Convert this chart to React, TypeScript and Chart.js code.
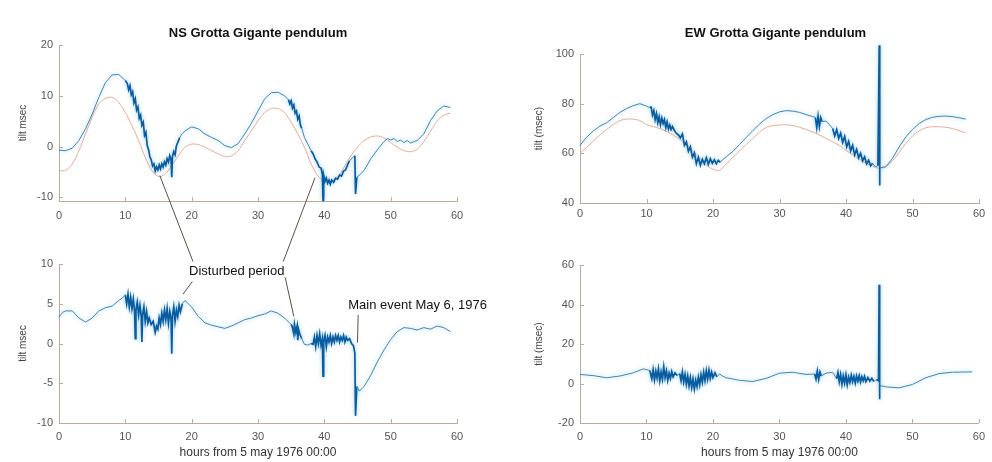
import React, { useEffect, useRef } from 'react';
import { Chart, registerables } from 'chart.js';
Chart.register(...registerables);

// ---------- tick labels ----------
const hourTicks = [0, 10, 20, 30, 40, 50, 60];
const nsTopTicks = [-10, 0, 10, 20];
const ewTopTicks = [40, 60, 80, 100];
const nsBottomTicks = [-10, -5, 0, 5, 10];
const ewBottomTicks = [-20, 0, 20, 40, 60];

// ---------- titles ----------
const nsTitle = 'NS Grotta Gigante pendulum';
const ewTitle = 'EW Grotta Gigante pendulum';
const xAxisTitle = 'hours from 5 may 1976 00:00';
const nsYTitle = 'tilt msec';
const ewYTitle = 'tilt (msec)';
const disturbedLabel = 'Disturbed period';
const mainEventLabel = 'Main event May 6, 1976';

// ---------- series: [hours, tilt] ----------
const nsTopMeasured: [number, number][] = [
  [0, -0.7], [1, -0.8], [2, -0.3], [3, 1.2], [4, 3.5], [5, 6.4], [6, 9.7], [7, 12.6], [8, 14.1], [9, 14.2], [10, 13.0],
  [10.3, 12.4], [10.5, 11.2], [10.7, 12.0], [10.9, 10.2], [11.1, 10.8], [11.3, 8.6], [11.5, 9.4], [11.7, 7.2], [11.9, 7.8],
  [12.1, 5.6], [12.3, 6.2], [12.5, 4.2], [12.7, 4.8], [12.9, 2.2], [13.1, 2.8], [13.3, 0.2], [13.5, -0.6], [13.7, -2.0],
  [13.9, -2.6], [14.1, -3.8], [14.3, -3.4], [14.5, -4.8], [14.7, -4.0], [14.9, -4.6], [15.1, -3.6], [15.3, -4.4],
  [15.5, -3.4], [15.7, -4.0], [15.9, -3.0], [16.1, -3.6], [16.3, -2.4], [16.5, -3.0], [16.7, -1.8], [16.9, -2.6],
  [17.0, -6.0], [17.1, -2.0], [17.3, -1.0], [17.5, -1.6], [17.7, 0.2], [17.9, 0.8], [18.2, 1.8], [18.6, 2.6], [19, 3.1],
  [20, 3.9], [21, 3.5], [22, 2.5], [23, 1.8], [24, 1.2], [25, 0.2], [26, -0.2], [27, 0.6], [28, 2.5], [29, 4.6], [30, 7.0],
  [31, 9.4], [32, 10.6], [33, 10.7], [34, 10.0], [34.6, 9.2], [34.8, 8.4], [35, 9.0], [35.2, 7.6], [35.4, 8.2], [35.6, 6.6],
  [35.8, 7.0], [36, 5.4], [36.2, 6.0], [36.4, 4.2], [36.6, 3.6], [37, 1.8], [37.5, 0.5], [38, -0.8], [38.3, -1.4],
  [38.6, -2.4], [38.9, -3.0], [39.2, -4.0], [39.5, -4.2], [39.7, -5.4], [39.8, -10.6], [39.9, -5.6], [40.1, -6.8],
  [40.3, -6.2], [40.5, -7.2], [40.7, -6.6], [40.9, -7.4], [41.1, -6.6], [41.4, -7.0], [41.7, -6.2], [42.0, -6.4],
  [42.3, -5.6], [42.6, -5.8], [42.9, -4.8], [43.2, -4.6], [43.5, -3.6], [43.8, -2.8], [44.2, -2.2], [44.6, -1.8],
  [44.7, -9.3], [44.9, -6.0], [45.3, -5.6], [46, -4.7], [47, -2.4], [48, -0.6], [49, 1.0], [49.5, 1.6], [50, 1.3],
  [50.5, 1.6], [51, 1.0], [51.5, 1.3], [52, 0.8], [52.5, 1.2], [53, 0.7], [53.5, 1.0], [54, 1.2], [55, 2.5], [56, 5.1],
  [57, 7.0], [58, 8.0], [59, 7.7],
];

const nsTopModel: [number, number][] = [
  [0, -4.7], [1, -4.7], [2, -3.4], [3, -0.8], [4, 2.5], [5, 5.8], [6, 8.4], [7, 9.5], [8, 9.7], [9, 8.7], [10, 6.7],
  [11, 4.1], [12, 1.2], [13, -2.1], [14, -4.7], [15, -5.9], [16, -5.4], [17, -3.7], [18, -1.8], [19, -0.1], [20, 0.5],
  [21, 0.4], [22, -0.1], [23, -0.8], [24, -1.4], [25, -2.0], [26, -1.8], [27, -0.8], [28, 1.2], [29, 3.1], [30, 5.1],
  [31, 6.7], [32, 7.5], [33, 7.5], [34, 6.7], [35, 4.8], [36, 2.5], [37, -0.1], [38, -3.4], [39, -5.7], [40, -6.9],
  [41, -7.0], [42, -6.0], [43, -4.0], [44, -1.8], [45, -0.1], [46, 1.2], [47, 1.9], [48, 2.1], [49, 1.7], [50, 0.8],
  [51, -0.1], [52, -0.8], [53, -1.0], [54, -0.5], [55, 1.0], [56, 3.0], [57, 5.0], [58, 6.2], [59, 6.6],
];

const ewTopMeasured: [number, number][] = [
  [0, 63.2], [1, 66.5], [2, 69.0], [3, 71.0], [4, 72.3], [5, 74.4], [6, 76.5], [7, 78.0], [8, 79.2], [9, 80.0], [10, 79.0],
  [10.5, 78.4], [10.7, 78.6], [10.9, 75.4], [11.1, 77.2], [11.3, 73.6], [11.5, 76.0], [11.7, 72.4], [11.9, 74.8],
  [12.1, 71.6], [12.3, 74.2], [12.5, 72.0], [12.7, 73.6], [12.9, 70.4], [13.1, 72.6], [13.3, 69.8], [13.5, 71.4],
  [13.7, 69.6], [13.9, 70.8], [14.2, 69.2], [14.5, 68.0], [14.8, 67.4], [15.1, 66.2], [15.4, 67.8], [15.7, 63.2],
  [16.0, 64.6], [16.3, 60.8], [16.6, 62.6], [16.9, 58.4], [17.2, 60.2], [17.5, 55.8], [17.8, 58.4], [18.1, 55.2],
  [18.4, 57.6], [18.7, 55.8], [19.0, 58.2], [19.3, 55.6], [19.6, 57.8], [19.9, 56.0], [20.2, 57.4], [20.5, 55.8],
  [20.8, 57.2], [21.1, 56.4], [21.5, 57.6], [22, 58.6], [23, 60.8], [24, 63.6], [25, 66.4], [26, 69.2], [27, 71.8],
  [28, 74.0], [29, 75.6], [30, 76.7], [31, 77.2], [32, 77.0], [33, 76.5], [34, 75.6], [35, 74.8], [35.4, 74.4],
  [35.6, 70.4], [35.8, 75.0], [36.0, 70.8], [36.2, 74.4], [36.4, 72.8], [37, 73.0], [38, 70.0], [38.3, 67.0],
  [38.6, 69.6], [38.9, 66.0], [39.2, 68.2], [39.5, 64.4], [39.8, 66.8], [40.1, 62.6], [40.4, 64.8], [40.7, 61.0],
  [41.0, 63.2], [41.3, 59.4], [41.6, 61.6], [41.9, 58.2], [42.2, 60.0], [42.5, 57.0], [42.8, 58.6], [43.1, 55.8],
  [43.4, 57.2], [43.7, 55.0], [44.0, 56.0], [44.4, 54.6], [44.8, 55.0], [45.0, 103.5], [45.05, 47.0], [45.1, 54.2],
  [46, 54.6], [47, 58.0], [48, 62.6], [49, 66.6], [50, 69.6], [51, 72.0], [52, 73.6], [53, 74.5], [54, 74.9], [55, 75.0],
  [56, 74.8], [57, 74.3], [58, 73.8],
];

const ewTopModel: [number, number][] = [
  [0, 60.0], [1, 62.4], [2, 65.0], [3, 67.4], [4, 69.6], [5, 71.6], [6, 73.2], [7, 73.8], [8, 73.8], [9, 73.2],
  [10, 71.6], [11, 70.8], [12, 70.0], [13, 68.8], [14, 67.4], [15, 65.6], [16, 63.8], [17, 61.0], [18, 58.0],
  [19, 55.2], [20, 53.6], [21, 53.2], [22, 55.8], [23, 58.4], [24, 61.0], [25, 63.6], [26, 66.0], [27, 68.6],
  [28, 70.4], [29, 71.2], [30, 71.4], [31, 71.5], [32, 71.2], [33, 70.5], [34, 69.6], [35, 68.6], [36, 67.4],
  [37, 66.0], [38, 64.6], [39, 63.2], [40, 61.2], [41, 59.4], [42, 57.6], [43, 56.0], [44, 54.8], [45, 54.0],
  [46, 54.6], [47, 57.0], [48, 60.4], [49, 64.0], [50, 67.0], [51, 69.0], [52, 70.3], [53, 70.7], [54, 70.7],
  [55, 70.5], [56, 70.0], [57, 69.2], [58, 68.2],
];

const nsBottomMeasured: [number, number][] = [
  [0, 3.3], [0.5, 3.9], [1, 4.1], [2, 4.1], [3, 3.2], [4, 2.7], [5, 3.2], [6, 4.1], [7, 4.5], [8, 4.7], [9, 5.4],
  [9.5, 5.7], [10, 6.1], [10.2, 5.0], [10.4, 6.2], [10.6, 4.6], [10.8, 5.8], [11.0, 4.4], [11.2, 5.6], [11.4, 4.0],
  [11.5, 0.6], [11.6, 4.2], [11.8, 5.2], [12.0, 3.6], [12.2, 4.8], [12.4, 3.4], [12.5, 0.2], [12.6, 3.6], [12.8, 4.6],
  [13.0, 2.8], [13.2, 4.0], [13.4, 2.6], [13.6, 3.2], [13.9, 2.4], [14.2, 2.8], [14.5, 1.4], [14.7, 2.2], [14.9, 1.8],
  [15.1, 3.2], [15.3, 2.4], [15.5, 3.8], [15.7, 2.8], [15.9, 4.2], [16.1, 3.0], [16.3, 4.4], [16.5, 2.6], [16.7, 4.0],
  [16.9, 3.0], [17.0, -1.3], [17.1, 3.4], [17.3, 4.6], [17.5, 2.8], [17.7, 4.2], [17.9, 3.4], [18.1, 4.8], [18.3, 4.0],
  [18.6, 5.0], [19, 5.4], [19.5, 5.0], [20, 4.6], [21, 3.4], [22, 2.6], [23, 2.3], [24, 2.1], [25, 1.9], [26, 2.2],
  [27, 2.6], [28, 3.0], [29, 3.2], [30, 3.5], [31, 3.7], [32, 4.1], [33, 3.8], [34, 3.2], [35, 2.4], [35.2, 2.0],
  [35.4, 1.2], [35.5, 2.4], [35.7, 1.4], [35.9, 2.2], [36.0, 0.4], [36.1, 1.8], [36.3, 1.2], [36.6, 0.6], [37, -0.1],
  [37.5, -0.2], [38, 0.0], [38.3, -0.1], [38.5, 0.8], [38.7, -0.4], [38.9, 1.0], [39.1, 0.0], [39.3, 1.2], [39.5, -0.2],
  [39.7, 0.6], [39.8, -4.1], [39.9, 0.2], [40.1, 1.0], [40.3, -0.4], [40.5, 0.8], [40.7, 0.2], [40.9, 1.0], [41.1, 0.0],
  [41.3, 0.8], [41.5, 0.2], [41.7, 1.0], [41.9, 0.4], [42.1, 1.0], [42.3, 0.2], [42.5, 0.8], [42.7, 0.4], [42.9, 1.0],
  [43.1, 0.2], [43.3, 0.8], [43.5, 0.4], [43.8, 0.6], [44.1, 0.0], [44.4, -0.3], [44.6, -1.2], [44.7, -9.1],
  [44.9, -5.4], [45.3, -6.0], [46, -5.4], [47, -4.0], [48, -2.3], [49, -0.8], [50, 0.5], [51, 1.5], [52, 2.0],
  [53, 1.9], [54, 1.7], [55, 2.0], [56, 1.8], [57, 2.2], [58, 2.0], [59, 1.5],
];

const ewBottomMeasured: [number, number][] = [
  [0, 4.6], [2, 4.0], [4, 2.9], [6, 3.8], [8, 5.4], [9.5, 7.4], [10.5, 6.6], [10.8, 2.4], [11.0, 7.0], [11.2, 1.8],
  [11.4, 6.2], [11.6, 2.8], [11.8, 7.4], [12.0, 1.4], [12.2, 5.8], [12.4, 2.2], [12.6, 8.4], [12.8, 3.0], [13.0, 6.4],
  [13.2, 1.6], [13.4, 5.2], [13.6, 2.6], [13.8, 6.0], [14.0, 3.4], [14.3, 5.4], [14.6, 4.0], [15.0, 5.0], [15.2, 1.4],
  [15.4, 5.8], [15.6, 0.8], [15.8, 4.6], [16.0, -0.4], [16.2, 3.8], [16.4, -1.2], [16.6, 3.0], [16.8, -2.0], [17.0, 2.2],
  [17.2, -2.8], [17.4, 1.6], [17.6, -1.6], [17.8, 3.2], [18.0, -0.6], [18.2, 4.4], [18.4, 0.6], [18.6, 5.6], [18.8, 1.4],
  [19.0, 6.4], [19.2, 2.2], [19.4, 6.8], [19.6, 2.6], [19.8, 5.8], [20.0, 3.0], [20.3, 5.4], [20.6, 3.4], [21.0, 4.8],
  [21.5, 3.6], [22, 2.9], [24, 1.6], [26, 1.0], [28, 2.6], [30, 5.2], [32, 5.7], [34, 4.6], [35.3, 4.8], [35.5, 2.2],
  [35.7, 6.4], [35.9, 2.0], [36.1, 5.8], [36.3, 3.8], [37, 5.2], [38, 5.7], [38.6, 2.4], [38.8, 5.6], [39.0, 0.8],
  [39.2, 4.6], [39.4, -0.4], [39.6, 3.8], [39.8, 0.2], [40.0, 4.4], [40.2, -0.6], [40.4, 3.2], [40.6, 0.6], [40.8, 4.2],
  [41.0, 1.0], [41.2, 3.6], [41.4, 0.2], [41.6, 3.8], [41.8, 1.2], [42.0, 4.0], [42.2, 0.8], [42.4, 3.4], [42.6, 1.4],
  [42.8, 3.6], [43.0, 1.0], [43.3, 3.0], [43.6, 1.2], [43.9, 2.6], [44.2, 1.0], [44.6, 2.0], [44.9, 1.4], [45.0, 50.0],
  [45.05, -8.0], [45.1, -1.0], [46, -1.7], [48, -2.2], [50, -0.5], [52, 2.9], [54, 5.0], [56, 5.7], [59, 5.9],
];

// ---------- annotations (data coordinates of a panel) ----------
type Anchor = [string, number, number];
const annotationLinks: [Anchor, Anchor][] = [
  [['nsTop', 15.2, -5.7], ['nsBottom', 20.2, 10.3]],
  [['nsTop', 38.6, -6.1], ['nsBottom', 33.8, 10.3]],
  [['nsBottom', 20.1, 7.8], ['nsBottom', 18.7, 6.2]],
  [['nsBottom', 34.1, 8.3], ['nsBottom', 35.4, 3.4]],
  [['nsBottom', 45.1, 3.6], ['nsBottom', 45.0, 0.1]],
];
const annotationTexts: { text: string; at: Anchor; align: CanvasTextAlign }[] = [
  { text: disturbedLabel, at: ['nsBottom', 26.8, 9.1], align: 'center' },
  { text: mainEventLabel, at: ['nsBottom', 43.6, 4.8], align: 'left' },
];

// ---------- styles ----------
const BLUE_SMOOTH = 'rgb(58,134,180)';
const BLUE_NOISY = 'rgb(8,92,160)';
const ORANGE = 'rgb(232,170,146)';
const AXIS = '#bcab9c';
const TICK_TEXT = '#555555';
const FONT = '"Liberation Sans", Arial, Helvetica, sans-serif';

const isDense = (c: any) => Math.abs(c.p1.parsed.x - c.p0.parsed.x) <= 0.35;

const tickMarkPlugin = {
  id: 'tickMarks',
  afterDraw(chart: any) {
    const { ctx, chartArea, scales } = chart;
    const { x, y } = scales;
    ctx.save();
    ctx.strokeStyle = AXIS;
    ctx.lineWidth = 1;
    ctx.beginPath();
    x.ticks.forEach((t: any) => {
      const px = Math.round(x.getPixelForValue(t.value)) + 0.5;
      ctx.moveTo(px, chartArea.bottom);
      ctx.lineTo(px, chartArea.bottom - 4);
    });
    y.ticks.forEach((t: any) => {
      const py = Math.round(y.getPixelForValue(t.value)) + 0.5;
      ctx.moveTo(chartArea.left, py);
      ctx.lineTo(chartArea.left + 4, py);
    });
    ctx.stroke();
    ctx.restore();
  },
};

const glowPlugin = {
  id: 'glow',
  beforeDatasetDraw(chart: any, args: any) {
    if (args.index !== 0) return;
    const ctx = chart.ctx;
    ctx.save();
    ctx.shadowColor = 'rgba(110,180,225,0.7)';
    ctx.shadowBlur = 4;
  },
  afterDatasetDraw(chart: any, args: any) {
    if (args.index !== 0) return;
    chart.ctx.restore();
  },
};

const panelTitlePlugin = {
  id: 'panelTitle',
  afterDraw(chart: any, _args: any, opts: any) {
    if (!opts || !opts.text) return;
    const { ctx, chartArea } = chart;
    ctx.save();
    ctx.font = `bold 13px ${FONT}`;
    ctx.fillStyle = '#111111';
    ctx.textAlign = 'center';
    ctx.textBaseline = 'middle';
    ctx.fillText(opts.text, (chartArea.left + chartArea.right) / 2 + (opts.dx || 0), opts.y);
    ctx.restore();
  },
};

interface PanelSpec {
  measured: [number, number][];
  model?: [number, number][];
  yMin: number;
  yMax: number;
  yTicks: number[];
  yTitle: string;
  title?: string;
  titleDx?: number;
  xTitle?: string;
  padLeft: number;
  padRight: number;
  padTop: number;
  yWidth: number;
  xHeight: number;
  xLabelPad: number;
}

function makeChart(canvas: HTMLCanvasElement, p: PanelSpec) {
  const datasets: any[] = [
    {
      data: p.measured.map(([x, y]) => ({ x, y })),
      borderColor: BLUE_SMOOTH,
      borderWidth: 1,
      pointRadius: 0,
      tension: 0,
      clip: false,
      order: 0,
      segment: {
        borderColor: (c: any) => (isDense(c) ? BLUE_NOISY : BLUE_SMOOTH),
        borderWidth: (c: any) => (isDense(c) ? 1.7 : 1),
      },
    },
  ];
  if (p.model) {
    datasets.push({
      data: p.model.map(([x, y]) => ({ x, y })),
      borderColor: ORANGE,
      borderWidth: 1,
      pointRadius: 0,
      tension: 0.3,
      clip: false,
      order: 1,
    });
  }
  return new Chart(canvas, {
    type: 'line',
    data: { datasets },
    options: {
      responsive: false,
      animation: false,
      layout: { padding: { left: p.padLeft, right: p.padRight, top: p.padTop, bottom: 0 } },
      plugins: {
        legend: { display: false },
        tooltip: { enabled: false },
        // @ts-ignore
        panelTitle: { text: p.title, y: 33, dx: p.titleDx || 0 },
      },
      scales: {
        x: {
          type: 'linear',
          min: 0,
          max: 60,
          afterBuildTicks: (s: any) => {
            s.ticks = hourTicks.map((v) => ({ value: v }));
          },
          afterFit: (s: any) => {
            s.height = p.xHeight;
          },
          ticks: { padding: p.xLabelPad, color: TICK_TEXT, font: { family: FONT, size: 11 }, maxRotation: 0, autoSkip: false },
          grid: { display: false, drawTicks: false },
          border: { display: true, color: AXIS, width: 1 },
          title: {
            display: !!p.xTitle,
            text: p.xTitle || '',
            color: '#333333',
            font: { family: FONT, size: 12 },
            padding: { top: 0, bottom: 2 },
          },
        },
        y: {
          type: 'linear',
          min: p.yMin,
          max: p.yMax,
          afterBuildTicks: (s: any) => {
            s.ticks = p.yTicks.map((v) => ({ value: v }));
          },
          afterFit: (s: any) => {
            s.width = p.yWidth;
          },
          ticks: { padding: 6, color: TICK_TEXT, font: { family: FONT, size: 11 } },
          grid: { display: false, drawTicks: false },
          border: { display: true, color: AXIS, width: 1 },
          title: {
            display: true,
            text: p.yTitle,
            color: '#444444',
            font: { family: FONT, size: 10 },
            padding: { top: 4, bottom: 4 },
          },
        },
      },
    } as any,
    plugins: [tickMarkPlugin, glowPlugin, panelTitlePlugin],
  });
}

const W = 496;
const H = 231;

export default function App() {
  const tl = useRef<HTMLCanvasElement>(null);
  const tr = useRef<HTMLCanvasElement>(null);
  const bl = useRef<HTMLCanvasElement>(null);
  const br = useRef<HTMLCanvasElement>(null);
  const ov = useRef<HTMLCanvasElement>(null);

  useEffect(() => {
    const nsTop = makeChart(tl.current!, {
      measured: nsTopMeasured, model: nsTopModel, yMin: -10.7, yMax: 20, yTicks: nsTopTicks, yTitle: nsYTitle,
      title: nsTitle, padLeft: 13, padRight: 39, padTop: 45, yWidth: 46, xHeight: 30, xLabelPad: 8,
    });
    const ewTop = makeChart(tr.current!, {
      measured: ewTopMeasured, model: ewTopModel, yMin: 40, yMax: 100, yTicks: ewTopTicks, yTitle: ewYTitle,
      title: ewTitle, titleDx: -4, padLeft: 33, padRight: 13, padTop: 54, yWidth: 51, xHeight: 28, xLabelPad: 4,
    });
    const nsBottom = makeChart(bl.current!, {
      measured: nsBottomMeasured, yMin: -10, yMax: 10, yTicks: nsBottomTicks, yTitle: nsYTitle,
      xTitle: xAxisTitle, padLeft: 13, padRight: 39, padTop: 33, yWidth: 46, xHeight: 39, xLabelPad: 7,
    });
    const ewBottom = makeChart(br.current!, {
      measured: ewBottomMeasured, yMin: -20, yMax: 60, yTicks: ewBottomTicks, yTitle: ewYTitle,
      xTitle: xAxisTitle, padLeft: 33, padRight: 13, padTop: 34, yWidth: 51, xHeight: 39, xLabelPad: 7,
    });

    const panels: Record<string, { chart: Chart; ox: number; oy: number }> = {
      nsTop: { chart: nsTop, ox: 0, oy: 0 },
      ewTop: { chart: ewTop, ox: W, oy: 0 },
      nsBottom: { chart: nsBottom, ox: 0, oy: H },
      ewBottom: { chart: ewBottom, ox: W, oy: H },
    };
    const toPx = (a: Anchor): [number, number] => {
      const p = panels[a[0]];
      const sc: any = p.chart.scales;
      return [p.ox + sc.x.getPixelForValue(a[1]), p.oy + sc.y.getPixelForValue(a[2])];
    };

    const ctx = ov.current!.getContext('2d')!;
    ctx.clearRect(0, 0, 992, 462);
    ctx.strokeStyle = '#5e4e40';
    ctx.lineWidth = 1;
    annotationLinks.forEach(([a, b]) => {
      const [x1, y1] = toPx(a);
      const [x2, y2] = toPx(b);
      ctx.beginPath();
      ctx.moveTo(x1, y1);
      ctx.lineTo(x2, y2);
      ctx.stroke();
    });
    ctx.font = `13px ${FONT}`;
    ctx.fillStyle = '#111111';
    ctx.textBaseline = 'middle';
    annotationTexts.forEach((t) => {
      const [x, y] = toPx(t.at);
      ctx.textAlign = t.align;
      ctx.fillText(t.text, x, y);
    });

    return () => {
      nsTop.destroy();
      ewTop.destroy();
      nsBottom.destroy();
      ewBottom.destroy();
    };
  }, []);

  const cs = (left: number, top: number): React.CSSProperties => ({
    position: 'absolute', left, top, width: W, height: H,
  });

  return (
    <div style={{ position: 'fixed', left: 0, top: 0, width: 992, height: 462, background: '#ffffff' }}>
      <canvas ref={tl} width={W} height={H} style={cs(0, 0)} />
      <canvas ref={tr} width={W} height={H} style={cs(W, 0)} />
      <canvas ref={bl} width={W} height={H} style={cs(0, H)} />
      <canvas ref={br} width={W} height={H} style={cs(W, H)} />
      <canvas
        ref={ov}
        width={992}
        height={462}
        style={{ position: 'absolute', left: 0, top: 0, width: 992, height: 462, pointerEvents: 'none' }}
      />
    </div>
  );
}
